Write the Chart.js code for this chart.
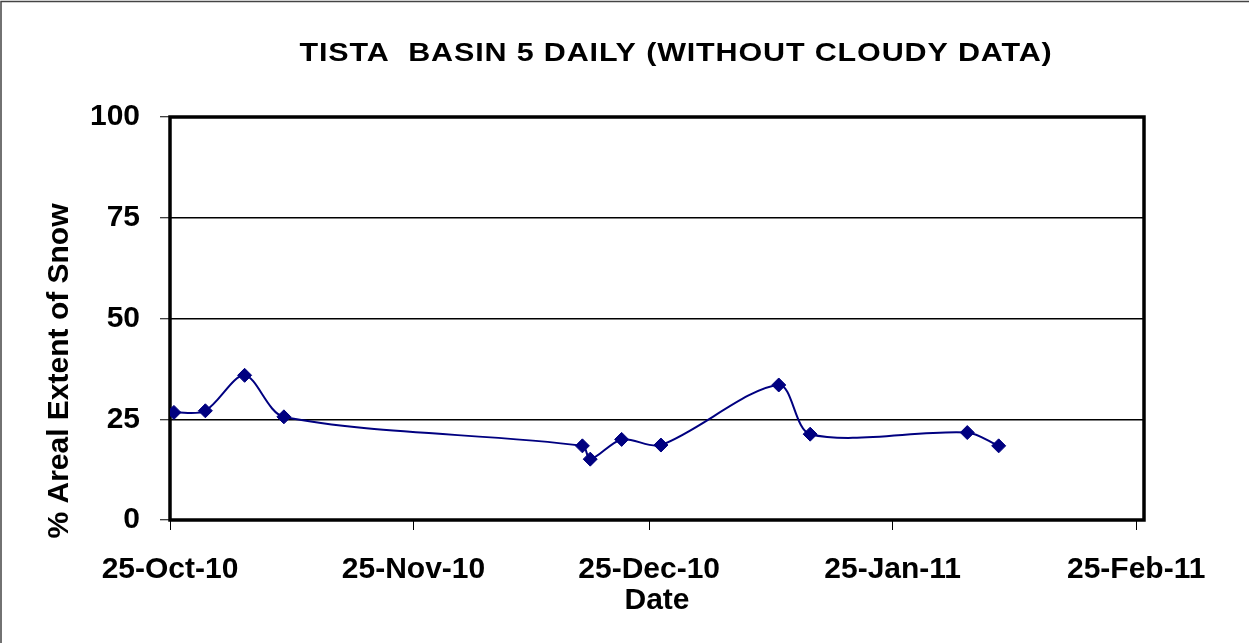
<!DOCTYPE html>
<html>
<head>
<meta charset="utf-8">
<script src="https://cdn.jsdelivr.net/npm/chart.js@4"></script>
<style>
  html, body { margin: 0; padding: 0; background: #fff; }
</style>
</head>
<body>
<canvas id="chart" width="1249" height="643"></canvas>
<script>
// readings
const dates = ['2010-10-25', '2010-10-29', '2010-11-03', '2010-11-08', '2010-12-16', '2010-12-17',
  '2010-12-21', '2010-12-26', '2011-01-10', '2011-01-14', '2011-02-03', '2011-02-07'];
const snowExtent = [26.7, 27.1, 35.9, 25.6, 18.4, 15.1, 20.0, 18.6, 33.5, 21.3, 21.7, 18.4];

const tickDates = ['2010-10-25', '2010-11-25', '2010-12-25', '2011-01-25', '2011-02-25'];
const tickLabels = ['25-Oct-10', '25-Nov-10', '25-Dec-10', '25-Jan-11', '25-Feb-11'];
const axisEnd = '2011-02-26';
const yTicks = [0, 25, 50, 75, 100];

const title = 'TISTA  BASIN 5 DAILY (WITHOUT CLOUDY DATA)';
const yTitle = '% Areal Extent of Snow';
const FONT = '"Liberation Sans", Arial, sans-serif';

const DAY = 86400000;
const dayOf = d => (Date.parse(d) - Date.parse(tickDates[0])) / DAY;

// Excel puts each point in the middle of its day slot
const points = dates.map((d, i) => ({ x: dayOf(d) + 0.5, y: snowExtent[i] }));

const chrome = {
  id: 'chrome',
  beforeDraw(chart) {
    const ctx = chart.ctx;
    ctx.save();
    ctx.fillStyle = '#fff';
    ctx.fillRect(0, 0, chart.width, chart.height);
    ctx.strokeStyle = '#444';
    ctx.lineWidth = 1.5;
    ctx.beginPath();
    ctx.moveTo(1, chart.height);
    ctx.lineTo(1, 1.5);
    ctx.lineTo(chart.width, 1.5);
    ctx.stroke();
    ctx.restore();
  },
  beforeDatasetsDraw(chart) {
    const { ctx, chartArea: a } = chart;
    ctx.save();
    ctx.strokeStyle = '#000';
    ctx.lineWidth = 3.5;
    ctx.strokeRect(a.left, a.top, a.right - a.left, a.bottom - a.top);
    ctx.restore();
  },
  afterDraw(chart) {
    const ctx = chart.ctx;
    // the title in the picture is a wide, stretched bold face
    ctx.save();
    ctx.font = 'bold 25px ' + FONT;
    ctx.letterSpacing = '0.7px';
    ctx.fillStyle = '#000';
    ctx.textAlign = 'center';
    ctx.textBaseline = 'alphabetic';
    ctx.translate(676, 61);
    ctx.scale(1.22, 1);
    ctx.fillText(title, 0, 0);
    ctx.restore();

    // y title sits lower than the plot's middle
    ctx.save();
    ctx.font = 'bold 30px ' + FONT;
    ctx.fillStyle = '#000';
    ctx.textAlign = 'center';
    ctx.textBaseline = 'alphabetic';
    ctx.translate(68, 371);
    ctx.rotate(-Math.PI / 2);
    ctx.fillText(yTitle, 0, 0);
    ctx.restore();
  }
};

new Chart(document.getElementById('chart'), {
  type: 'line',
  data: {
    datasets: [{
      data: points,
      borderColor: '#000080',
      backgroundColor: '#000080',
      borderWidth: 2,
      tension: 0.3,
      pointStyle: 'rectRot',
      pointRadius: 7,
      pointBorderWidth: 1,
      pointBorderColor: '#000080',
      pointBackgroundColor: '#000080',
      fill: false
    }]
  },
  options: {
    responsive: false,
    animation: false,
    layout: { padding: { left: 0, top: 117, right: 105, bottom: 0 } },
    plugins: {
      legend: { display: false },
      title: { display: false },
      tooltip: { enabled: false }
    },
    scales: {
      x: {
        type: 'linear',
        min: 0,
        max: dayOf(axisEnd),
        afterBuildTicks: s => { s.ticks = tickDates.map(d => ({ value: dayOf(d) })); },
        afterFit: s => { s.height = 123; },
        border: { display: false },
        grid: {
          drawOnChartArea: false,
          drawTicks: true,
          tickLength: 10,
          tickWidth: 1,
          tickColor: '#000'
        },
        ticks: {
          autoSkip: false,
          maxRotation: 0,
          padding: 22,
          color: '#000',
          font: { family: FONT, size: 30, weight: 'bold' },
          callback: (v, i) => tickLabels[i]
        },
        title: {
          display: true,
          text: 'Date',
          color: '#000',
          font: { family: FONT, size: 30, weight: 'bold' },
          padding: { top: 0, bottom: 24 }
        }
      },
      y: {
        min: 0,
        max: 100,
        afterBuildTicks: s => { s.ticks = yTicks.map(v => ({ value: v })); },
        afterFit: s => { s.width = 170; },
        border: { display: false },
        grid: {
          color: '#000',
          lineWidth: 1.5,
          drawTicks: true,
          tickLength: 10,
          tickWidth: 1,
          tickColor: '#000'
        },
        ticks: {
          padding: 20,
          color: '#000',
          font: { family: FONT, size: 30, weight: 'bold' }
        },
        title: { display: false }
      }
    }
  },
  plugins: [chrome]
});
</script>
</body>
</html>
